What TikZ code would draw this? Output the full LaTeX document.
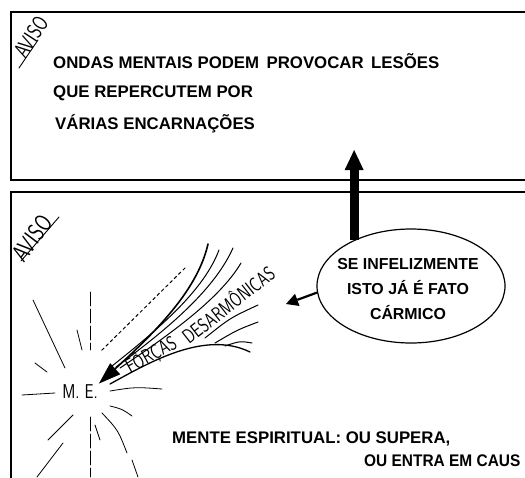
\documentclass[tikz,border=0pt]{standalone}
\usepackage{fontspec}
\setmainfont{Liberation Sans}
\usetikzlibrary{arrows.meta,shapes.geometric}

\begin{document}
\begin{tikzpicture}[x=1pt,y=-1pt,
    caixa/.style={line width=1.3pt},
    mao/.style={font=\sffamily\fontsize{15.5}{15.5}\selectfont, inner sep=0pt, yscale=1.3},
    texto/.style={font=\bfseries\fontsize{16.8}{23}\selectfont, anchor=base west, inner sep=0pt},
    traco/.style={line width=0.9pt, line cap=round},
    raio/.style={line width=0.8pt, line cap=round},
    forca/.style={line width=1pt, line cap=round}]

    \useasboundingbox[fill=white] (0,0) rectangle (525,477);

    % two frames, open to the right
    \draw[caixa] (527,12) -- (11,12) -- (11,180) -- (527,180);
    \draw[caixa] (527,192) -- (11,192) -- (11,479);

    % upper frame
    \node[rotate=57, mao, font=\sffamily\fontsize{17}{17}\selectfont] (aviso1) at (31,37) {AVISO};
    \draw[traco] (19,68) -- (38,40);
    \node[texto] (linha1) at (53,68) {ONDAS MENTAIS PODEM\, PROVOCAR\, LESÕES};
    \node[texto] (linha2) at (53,97) {QUE REPERCUTEM POR};
    \node[texto] (linha3) at (55,129) {VÁRIAS ENCARNAÇÕES};

    % lower frame
    \node[rotate=53, mao, font=\sffamily\fontsize{19}{19}\selectfont] (aviso2) at (32,238) {AVISO};
    \draw[traco] (21,261) -- (59,217);

    \node[draw, ellipse, line width=1.2pt, minimum width=188pt,
          minimum height=114pt, inner sep=0pt] (fato) at (411,286) {};
    \node[font=\bfseries\fontsize{15.9}{25}\selectfont, align=center,
          inner sep=0pt] (fatotxt) at (408,289) {SE INFELIZMENTE\\ISTO JÁ É FATO\\CÁRMICO};

    \coordinate (topo) at (353,150);
    \draw[line width=9pt, -{Triangle[length=20pt,width=19pt,line width=0pt]}]
        (fato.141) -- (fato.141 |- topo);
    \coordinate (ponta) at (286,304);
    \draw[line width=2.2pt, -{Triangle[length=12pt,width=13pt,line width=0pt]}]
        (fato.184) -- (ponta);

    % the spirit and its rays
    \node[font=\sffamily\fontsize{16}{16}\selectfont, inner sep=1pt, yscale=1.25] (me) at (80,392) {M. E.};

    \draw[raio] (33,300) -- (65,368);
    \draw[raio, dash pattern=on 14pt off 3pt] (90,292) -- (90,350);
    \draw[raio] (77,330) -- (82,350);
    \draw[raio] (35,363) -- (47,372);
    \draw[raio] (22,395) -- (55,393);
    \draw[raio] (110,391) .. controls (135,387) .. (162,389);
    \draw[raio] (110,406) .. controls (122,409) .. (132,416);
    \draw[raio] (73,415) -- (48,440);
    \draw[raio] (63,443) -- (37,477);
    \draw[raio, dash pattern=on 14pt off 3pt] (90,417) -- (90,477);
    \draw[raio] (95,425) -- (100,440);
    \draw[raio] (102,413) .. controls (118,430) .. (127,453);
    \draw[raio] (132,460) -- (138,477);

    % disharmonic forces
    \coordinate (fonte) at (208,244);
    \draw[forca, line width=1.6pt, -{Triangle[length=22pt,width=15pt,line width=0pt]}]
        (fonte) .. controls (198,288) and (160,328) .. (me.north east);
    \draw[forca] (219,250) .. controls (204,290) and (160,328) .. (112,366);
    \draw[forca] (233,248) .. controls (215,288) and (172,326) .. (116,367);
    \draw[forca] (241,263) .. controls (222,295) and (180,328) .. (120,368);
    \draw[forca, dashed] (185,268) -- (100,352);
    \draw[forca, line width=1.3pt] (110,384) .. controls (150,362) and (205,330) .. (250,352);
    \draw[forca] (205,338) .. controls (230,318) .. (258,305);
    \draw[forca] (215,343) .. controls (237,330) .. (258,322);
    \draw[forca] (225,346) .. controls (240,341) .. (252,343);
    \node[rotate=29, mao, anchor=base west] (forcas) at (130,374) {FÔRÇAS};
    \node[rotate=38, mao, anchor=base west] (desarm) at (189,345) {DESARMÔNICAS};

    % closing statement
    \node[texto] (mente) at (172,443) {MENTE ESPIRITUAL: OU SUPERA,};
    \node[texto, xscale=0.92] (caus) at (364,466) {OU ENTRA EM CAUS};

\end{tikzpicture}
\end{document}
